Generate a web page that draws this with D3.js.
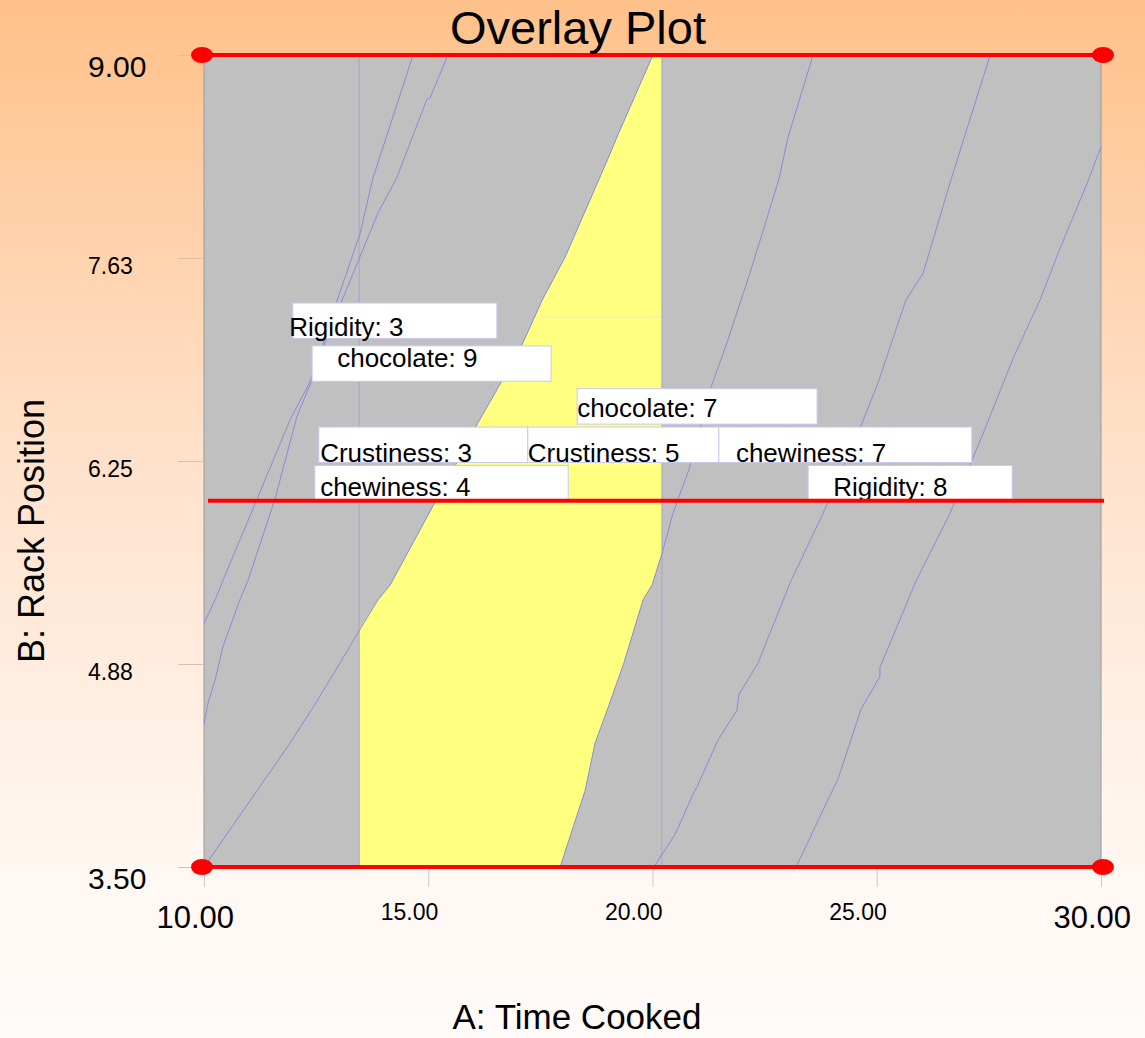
<!DOCTYPE html>
<html>
<head>
<meta charset="utf-8">
<script src="https://cdn.jsdelivr.net/npm/d3@7"></script>
<style>
  body { margin: 0; padding: 0; }
  svg { display: block; font-family: "Liberation Sans", Arial, sans-serif; }
</style>
</head>
<body>
<div id="overlay-plot"></div>
<script>
// axis ranges and ticks
var xDomain = [10, 30];
var yDomain = [3.5, 9.0];
var xTickValues = [10, 15, 20, 25, 30];
var xTickLabels = ["10.00", "15.00", "20.00", "25.00", "30.00"];
var yTickValues = [3.5, 4.875, 6.25, 7.625, 9.0];
var yTickLabels = ["3.50", "4.88", "6.25", "7.63", "9.00"];

// sweet spot (feasible window), [time, rack]
var sweetSpot = [
  [13.46, 3.50], [13.46, 5.11], [13.88, 5.31], [14.15, 5.41], [15.15, 5.97],
  [15.64, 6.24], [16.11, 6.51], [16.64, 6.79], [17.11, 7.05], [17.54, 7.34],
  [18.05, 7.63], [19.01, 8.30], [19.23, 8.46], [20.01, 9.00], [20.21, 9.00],
  [20.21, 5.62], [19.99, 5.41], [19.79, 5.31], [19.36, 4.88], [19.01, 4.58],
  [18.72, 4.34], [18.50, 4.02], [17.94, 3.50]
];

// contour lines
var contourA = [
  [14.66, 9.00], [14.04, 8.42], [13.77, 8.17], [13.48, 7.79], [12.97, 7.34],
  [12.54, 6.93], [12.32, 6.76], [11.92, 6.53], [11.18, 5.99], [10.42, 5.44],
  [10.25, 5.31], [10.00, 5.15]
];
var contourB = [
  [15.44, 9.00], [15.04, 8.71], [14.97, 8.70], [14.30, 8.17], [13.88, 7.93],
  [13.08, 7.34], [12.63, 7.00], [12.41, 6.80], [12.07, 6.55], [11.58, 5.99],
  [10.98, 5.44], [10.80, 5.31], [10.42, 4.99], [10.25, 4.77], [10.09, 4.61],
  [10.00, 4.47]
];
var contourC = [
  [10.00, 3.50], [11.03, 3.95], [11.92, 4.34], [12.47, 4.60], [12.97, 4.85],
  [13.48, 5.11], [13.88, 5.31], [14.15, 5.41], [15.15, 5.97], [15.64, 6.24],
  [16.11, 6.51], [16.64, 6.79], [17.11, 7.05], [17.54, 7.34], [18.05, 7.63],
  [19.01, 8.30], [19.23, 8.46], [20.01, 9.00]
];
var contourD = [
  [23.58, 9.00], [23.02, 8.44], [22.82, 8.16], [22.17, 7.52], [21.66, 7.05],
  [21.28, 6.73], [20.81, 6.19], [20.46, 5.90], [20.21, 5.62], [19.99, 5.41],
  [19.79, 5.31], [19.36, 4.88], [19.01, 4.58], [18.72, 4.34], [18.50, 4.02],
  [17.94, 3.50]
];
var contourE = [
  [27.53, 9.00], [26.97, 8.46], [26.66, 8.16], [26.08, 7.57], [26.03, 7.52],
  [25.65, 7.34], [25.03, 6.78], [24.65, 6.49], [23.78, 5.88], [23.09, 5.44],
  [22.35, 4.88], [21.93, 4.67], [21.88, 4.56], [21.46, 4.36], [20.99, 4.04],
  [20.93, 4.01], [20.50, 3.72], [20.03, 3.50]
];
var contourF = [
  [30.00, 8.38], [29.69, 8.13], [29.06, 7.67], [28.64, 7.34], [28.06, 6.96],
  [27.39, 6.45], [26.61, 5.88], [25.88, 5.44], [25.07, 4.85], [25.07, 4.79],
  [24.65, 4.57], [24.14, 4.10], [23.20, 3.50]
];
var contours = [contourA, contourB, contourC, contourD, contourE, contourF];

// constraint boundaries
var timeLimits = [13.46, 20.21];
var rackLimits = [3.5, 5.98, 9.0];
var faintLine = [[17.50, 7.225], [20.21, 7.225]];

// flag labels: [x0, x1, yTop, yBottom, textX, textY] in data units
var labelTexts = ["Rigidity: 3", "chocolate: 9", "chocolate: 7", "Crustiness: 3",
  "Crustiness: 5", "chewiness: 7", "chewiness: 4", "Rigidity: 8"];
var labelBoxes = [
  [11.98, 16.53, 7.32, 7.08, 11.90, 7.10],
  [12.41, 17.74, 7.03, 6.79, 12.97, 6.89],
  [18.32, 23.67, 6.74, 6.50, 18.32, 6.55],
  [12.56, 17.22, 6.48, 6.24, 12.59, 6.24],
  [17.22, 21.48, 6.48, 6.24, 17.22, 6.24],
  [21.48, 27.12, 6.48, 6.24, 21.86, 6.24],
  [12.47, 18.12, 6.22, 5.99, 12.59, 6.01],
  [23.47, 28.02, 6.22, 5.99, 24.03, 6.01]
];

var W = 1145, H = 1038;
var svg = d3.select("#overlay-plot")
  .append("svg")
  .attr("width", W)
  .attr("height", H);

// background gradient
var grad = svg.append("defs").append("linearGradient")
  .attr("id", "bg").attr("x1", 0).attr("y1", 0).attr("x2", 0).attr("y2", 1);
grad.append("stop").attr("offset", "0").attr("stop-color", "#ffc18a");
grad.append("stop").attr("offset", "0.45").attr("stop-color", "#ffe2cc");
grad.append("stop").attr("offset", "0.85").attr("stop-color", "#fff8f3");
grad.append("stop").attr("offset", "1").attr("stop-color", "#fffbf9");
svg.append("rect").attr("width", W).attr("height", H).attr("fill", "url(#bg)");

var x = d3.scaleLinear().domain(xDomain).range([204, 1101]);
var y = d3.scaleLinear().domain(yDomain).range([867, 55]);

// plot area
svg.append("rect")
  .attr("x", x(10)).attr("y", y(9))
  .attr("width", x(30) - x(10)).attr("height", y(3.5) - y(9))
  .attr("fill", "#c0c0c0")
  .attr("stroke", "#9a9a9a")
  .attr("stroke-width", 1);

var line = d3.line().x(d => x(d[0])).y(d => y(d[1]));

svg.append("path")
  .attr("d", line(sweetSpot) + "Z")
  .attr("fill", "#ffff80");

svg.append("path")
  .attr("d", line(faintLine))
  .attr("fill", "none")
  .attr("stroke", "#f2e2c8")
  .attr("stroke-width", 1);

// constraint verticals
svg.selectAll("line.limit")
  .data(timeLimits)
  .enter()
  .append("line")
  .attr("class", "limit")
  .attr("x1", d => x(d)).attr("x2", d => x(d))
  .attr("y1", y(9)).attr("y2", y(3.5))
  .attr("stroke", "#a4a4d4")
  .attr("stroke-width", 1);

svg.selectAll("path.contour")
  .data(contours)
  .enter()
  .append("path")
  .attr("class", "contour")
  .attr("d", line)
  .attr("fill", "none")
  .attr("stroke", "#8a8ad8")
  .attr("stroke-width", 1);

// x axis
var xAxis = svg.append("g")
  .attr("transform", "translate(0," + y(3.5) + ")")
  .call(d3.axisBottom(x)
    .tickValues(xTickValues)
    .tickFormat((d, i) => xTickLabels[i])
    .tickSize(20));
xAxis.select(".domain").remove();
xAxis.selectAll("line").attr("stroke", "#cccccc");
xAxis.selectAll("text")
  .attr("x", -48)
  .attr("dy", null)
  .attr("y", (d, i) => (i == 0 || i == xTickValues.length - 1) ? 61 : 53)
  .style("text-anchor", "start")
  .style("font-family", "Liberation Sans, Arial, sans-serif")
  .style("font-size", (d, i) => (i == 0 || i == xTickValues.length - 1) ? "31px" : "23px")
  .attr("fill", "#000");

// y axis
var yAxis = svg.append("g")
  .attr("transform", "translate(" + x(10) + ",0)")
  .call(d3.axisLeft(y)
    .tickValues(yTickValues)
    .tickFormat((d, i) => yTickLabels[i])
    .tickSize(26));
yAxis.select(".domain").remove();
yAxis.selectAll("line").attr("stroke", "#dcbfa8");
yAxis.selectAll("text")
  .attr("x", -116)
  .attr("dy", null)
  .attr("y", (d, i) => (i == 0 || i == yTickValues.length - 1) ? 21 : 15)
  .style("text-anchor", "start")
  .style("font-family", "Liberation Sans, Arial, sans-serif")
  .style("font-size", (d, i) => (i == 0 || i == yTickValues.length - 1) ? "30px" : "23px")
  .attr("fill", "#000");

// flag labels
var flags = svg.selectAll("g.flag")
  .data(labelBoxes)
  .enter()
  .append("g")
  .attr("class", "flag");
flags.append("rect")
  .attr("x", d => x(d[0]))
  .attr("y", d => y(d[2]))
  .attr("width", d => x(d[1]) - x(d[0]))
  .attr("height", d => y(d[3]) - y(d[2]))
  .attr("fill", "#ffffff")
  .attr("stroke", "#c8c8f0")
  .attr("stroke-width", 1);
flags.append("text")
  .attr("x", d => x(d[4]))
  .attr("y", d => y(d[5]))
  .text((d, i) => labelTexts[i])
  .attr("font-size", "26px")
  .attr("fill", "#000");

// red constraint lines
svg.selectAll("line.rack")
  .data(rackLimits)
  .enter()
  .append("line")
  .attr("class", "rack")
  .attr("x1", (d, i) => i == 1 ? x(10) + 4 : x(10))
  .attr("x2", (d, i) => i == 1 ? x(30) + 3 : x(30))
  .attr("y1", d => y(d)).attr("y2", d => y(d))
  .attr("stroke", "#ff0000")
  .attr("stroke-width", 4);

var dots = [];
[yDomain[1], yDomain[0]].forEach(v => { dots.push([10, v]); dots.push([30, v]); });
svg.selectAll("ellipse.end")
  .data(dots)
  .enter()
  .append("ellipse")
  .attr("class", "end")
  .attr("cx", d => x(d[0]) + (d[0] == 10 ? -2 : 2))
  .attr("cy", d => y(d[1]))
  .attr("rx", 11)
  .attr("ry", 8)
  .attr("fill", "#ff0000");

// titles
svg.append("text")
  .attr("x", 578).attr("y", 44)
  .attr("text-anchor", "middle")
  .attr("font-size", "47px")
  .text("Overlay Plot");

svg.append("text")
  .attr("x", 577).attr("y", 1029)
  .attr("text-anchor", "middle")
  .attr("font-size", "35px")
  .text("A: Time Cooked");

svg.append("text")
  .attr("transform", "translate(44,531)rotate(-90)")
  .attr("text-anchor", "middle")
  .attr("font-size", "36px")
  .text("B: Rack Position");
</script>
</body>
</html>
